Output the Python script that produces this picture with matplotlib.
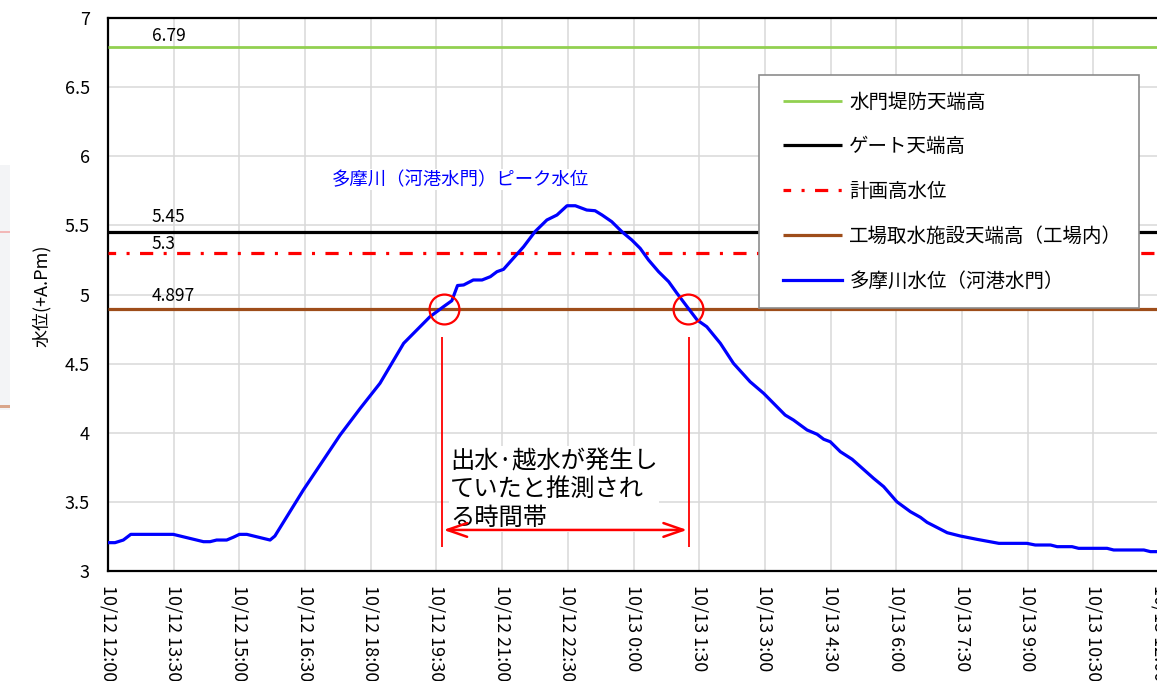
import matplotlib
matplotlib.use("Agg")
import matplotlib.pyplot as plt
from matplotlib.patches import Rectangle
from matplotlib.legend_handler import HandlerLine2D

plt.rcParams['font.family'] = ['Noto Sans CJK JP', 'DejaVu Sans']
plt.rcParams['lines.scale_dashes'] = False

# hours after 10/12 12:00 and water level of 多摩川 (河港水門)
hours = [0.00, 0.16, 0.35, 0.52, 1.49, 2.18, 2.33, 2.48, 2.71, 2.86, 3.00, 3.17,
         3.70, 3.81, 4.46, 5.07, 5.30, 5.76, 6.21, 6.75, 7.05, 7.35, 7.66, 7.85,
         7.98, 8.12, 8.34, 8.54, 8.73, 8.88, 9.03, 9.22, 9.49, 9.75, 10.02, 10.25,
         10.48, 10.67, 10.93, 11.12, 11.28, 11.50, 11.73, 11.96, 12.15, 12.34, 12.57,
         12.80, 12.99, 13.22, 13.45, 13.67, 13.98, 14.28, 14.66, 14.97, 15.46, 15.65,
         15.96, 16.19, 16.34, 16.49, 16.72, 16.99, 17.48, 17.71, 18.01, 18.32, 18.55,
         18.70, 19.16, 19.46, 19.84, 20.34, 20.98, 21.17, 21.52, 21.67, 22.01, 22.16,
         22.81, 22.96, 23.65, 23.80, 24.00]
level = [3.205, 3.205, 3.224, 3.265, 3.265, 3.212, 3.212, 3.224, 3.224, 3.244, 3.265, 3.265,
         3.224, 3.253, 3.586, 3.875, 3.984, 4.177, 4.358, 4.647, 4.743, 4.839, 4.912, 4.955,
         5.065, 5.069, 5.105, 5.105, 5.129, 5.165, 5.182, 5.250, 5.346, 5.455, 5.539, 5.575,
         5.642, 5.642, 5.611, 5.606, 5.575, 5.527, 5.455, 5.394, 5.334, 5.250, 5.165,
         5.093, 5.009, 4.912, 4.816, 4.767, 4.647, 4.502, 4.369, 4.285, 4.128, 4.092,
         4.020, 3.989, 3.953, 3.935, 3.863, 3.808, 3.670, 3.610, 3.501, 3.429, 3.388,
         3.352, 3.277, 3.253, 3.229, 3.200, 3.200, 3.188, 3.188, 3.176, 3.176, 3.164,
         3.164, 3.152, 3.152, 3.140, 3.140]

ref_names = ['水門堤防天端高', 'ゲート天端高', '計画高水位', '工場取水施設天端高（工場内）']
ref_levels = [6.79, 5.45, 5.3, 4.897]
ref_texts = ['6.79', '5.45', '5.3', '4.897']
river_name = '多摩川水位（河港水門）'

tick_labels = ['10/12 12:00', '10/12 13:30', '10/12 15:00', '10/12 16:30', '10/12 18:00',
               '10/12 19:30', '10/12 21:00', '10/12 22:30', '10/13 0:00', '10/13 1:30',
               '10/13 3:00', '10/13 4:30', '10/13 6:00', '10/13 7:30', '10/13 9:00',
               '10/13 10:30', '10/13 12:00']

# crossing times with 4.897 (start / end of overflow period)
cross_hours = [7.68, 13.24]

fig = plt.figure(figsize=(11.57, 6.81), dpi=100)

# faint remains of a neighbouring picture at the left edge
fig.patches.append(Rectangle((0, 1 - 410/681), 10/1157, 245/681, transform=fig.transFigure,
                             facecolor='#F3F4F6', edgecolor='none'))
fig.patches.append(Rectangle((0, 1 - 233/681), 10/1157, 2/681, transform=fig.transFigure,
                             facecolor='#F2B8B8', edgecolor='none'))
fig.patches.append(Rectangle((0, 1 - 408/681), 10/1157, 3/681, transform=fig.transFigure,
                             facecolor='#D9A58A', edgecolor='none'))

xmax = 24.5
ax = fig.add_axes([108/1157, 110/681, xmax*43.8/1157, 553/681])

ref_styles = [dict(color='#92D050', lw=2.0, ls='-'),
              dict(color='black', lw=2.3, ls='-'),
              dict(color='red', lw=2.3, ls=(4, (9.5, 7.5, 2.2, 7.5))),
              dict(color='#9E4D1A', lw=2.3, ls='-')]
for name, lev, st in zip(ref_names, ref_levels, ref_styles):
    ax.axhline(lev, label=name, solid_capstyle='butt', dash_capstyle='butt', zorder=3, **st)

ax.plot(hours, level, color='#0000FF', lw=2.3, label=river_name, zorder=4)

# value labels on the reference lines
offsets = [0.08, 0.11, 0.065, 0.09]
for lev, txt, off in zip(ref_levels, ref_texts, offsets):
    ax.text(1.0, lev + off, txt, fontsize=12.5, va='center', ha='left', zorder=5)

# circles at the crossings
ax.plot(cross_hours, [ref_levels[3]] * 2, 'o', ms=21.5, mfc='none', mec='red', mew=1.6, zorder=6)

# period marker
ax.vlines([cross_hours[0] - 0.05, cross_hours[1] + 0.03], 3.17, 4.69, color='red', lw=1.3, zorder=6)
ax.annotate('', xy=(cross_hours[0] - 0.02, 3.297), xytext=(cross_hours[1] - 0.02, 3.297),
            arrowprops=dict(arrowstyle='<->,head_length=0.95,head_width=0.33', color='red',
                            lw=1.8, mutation_scale=15, shrinkA=0, shrinkB=0), zorder=6)
ax.text(7.81, 3.89, '出水·越水が発生し\nていたと推測され\nる時間帯', fontsize=17.5, va='top', ha='left',
        linespacing=1.12, zorder=5,
        bbox=dict(facecolor='white', edgecolor='none', pad=1))

ax.text(5.11, 5.83, '多摩川（河港水門）ピーク水位', fontsize=13.2, color='#0000FF', va='center',
        ha='left', zorder=5, bbox=dict(facecolor='white', edgecolor='none', pad=1))

ax.set_xlim(0, xmax)
ax.set_ylim(3, 7)
ax.set_xticks([i * 1.5 for i in range(len(tick_labels))])
ax.set_xticklabels(tick_labels, rotation=-90, fontsize=13)
ax.set_yticks([3, 3.5, 4, 4.5, 5, 5.5, 6, 6.5, 7])
ax.set_yticklabels(['3', '3.5', '4', '4.5', '5', '5.5', '6', '6.5', '7'], fontsize=13)
ax.tick_params(axis='y', length=0, pad=13)
ax.tick_params(axis='x', length=0, pad=10)
ax.grid(True, color='#D9D9D9', lw=1.1, zorder=0)
ax.set_axisbelow(True)
for sp in ax.spines.values():
    sp.set_color('black')
    sp.set_linewidth(1.6)

ax.set_ylabel('水位(+A.Pm)', fontsize=13)
ax.yaxis.set_label_coords(42/1157, 1 - 296/681, transform=fig.transFigure)
ax.yaxis.label.set_va('center')

leg = ax.legend(loc='upper left', bbox_to_anchor=(759/1157, 1 - 75/681),
                bbox_transform=fig.transFigure, borderaxespad=0, fontsize=14,
                frameon=True, fancybox=False, framealpha=1, edgecolor='#8C8C8C',
                handlelength=3.4, handletextpad=0.4, labelspacing=1.22,
                borderpad=0.85, handler_map={plt.Line2D: HandlerLine2D(xpad=0.4)})
leg.get_frame().set_linewidth(1.2)
leg.set_zorder(10)

fig.savefig('out.png', dpi=100)
